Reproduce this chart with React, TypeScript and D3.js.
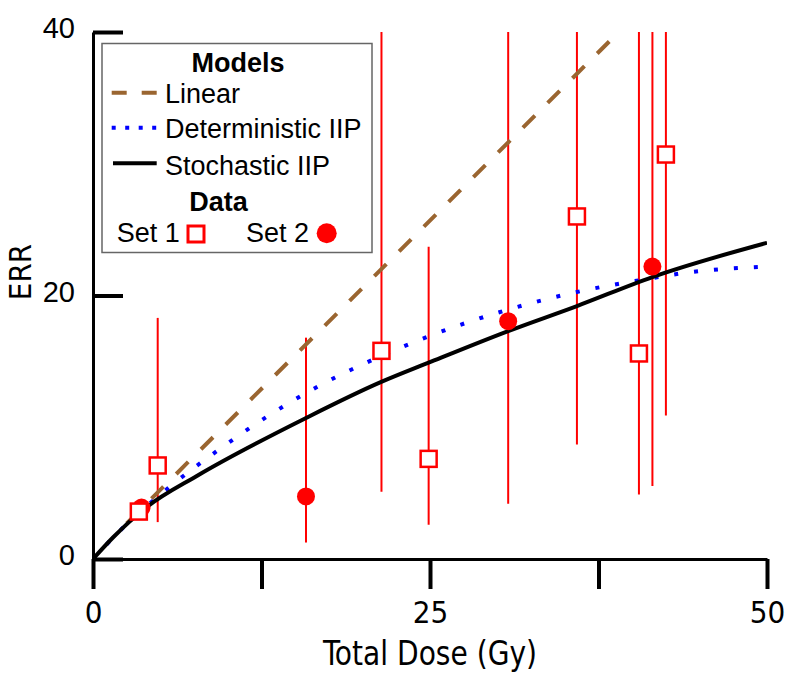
import React, { useEffect, useRef } from 'react'
import * as d3 from 'd3'

// Set 1 (open squares) and Set 2 (filled circles)
const set1Dose = [3.4, 4.8, 21.4, 24.9, 35.9, 40.5, 42.5]
const set1Err = [3.6, 7.1, 15.8, 7.6, 26.0, 15.6, 30.7]
const set1Lo = [3.6, 2.8, 5.1, 2.6, 8.7, 4.9, 10.9]
const set1Hi = [3.6, 18.3, 40, 23.7, 40, 40, 40]

const set2Dose = [3.6, 15.8, 30.8, 41.5]
const set2Err = [3.9, 4.75, 18.05, 22.2]
const set2Lo = [3.9, 1.25, 4.2, 5.55]
const set2Hi = [3.9, 16.8, 40, 40]

// model curves
const linearDose = [2.5, 39.0]
const linearErr = [2.7, 40]

const deterministicDose = [0, 2.25, 5.6, 9.2, 12.9, 16.7, 20.7, 24.9, 30.7, 36.5, 40.8, 43.8, 50]
const deterministicErr = [0, 2.4, 5.4, 8.2, 10.8, 13.1, 15.1, 16.9, 18.9, 20.4, 21.2, 21.7, 22.2]

const stochasticDose = [0, 1.5, 4, 7.7, 15.8, 21.3, 24.9, 30.8, 35.9, 41.5, 50]
const stochasticErr = [0, 1.65, 3.95, 6.3, 10.7, 13.4, 14.9, 17.3, 19.2, 21.4, 24.0]

const xTicks = [0, 12.5, 25, 37.5, 50]
const xTickLabels = ['0', '', '25', '', '50']
const yTicks = [0, 20, 40]

const RED = '#ff0000'
const BROWN = '#9a6530'
const BLUE = '#0000ff'
const NARROW = "'Liberation Sans Narrow', 'DejaVu Sans Condensed', sans-serif"
const SANS = "'Liberation Sans', Arial, sans-serif"

const W = 800
const H = 678

const x = d3.scaleLinear().domain([0, 50]).range([93, 767])
const y = d3.scaleLinear().domain([0, 40]).range([559, 32])

const zip = (xs: number[], ys: number[]) => xs.map((d, i) => [d, ys[i]] as [number, number])

const line = d3
  .line<[number, number]>()
  .x((d) => x(d[0]))
  .y((d) => y(d[1]))
  .curve(d3.curveMonotoneX)

const App: React.FC = () => {
  const xAxisRef = useRef<SVGGElement | null>(null)
  const yAxisRef = useRef<SVGGElement | null>(null)

  useEffect(() => {
    const gx = d3.select(xAxisRef.current!)
    gx.call(
      d3
        .axisBottom(x)
        .tickValues(xTicks)
        .tickSizeInner(30)
        .tickSizeOuter(0)
        .tickPadding(12)
        .tickFormat((_, i) => xTickLabels[i])
    )
    gx.select('.domain').attr('stroke', '#000').attr('stroke-width', 3)
    gx.selectAll('.tick line').attr('stroke', '#000').attr('stroke-width', 4)
    gx.selectAll('.tick text')
      .attr('fill', '#000')
      .attr('font-family', NARROW)
      .attr('font-size', 31)

    const gy = d3.select(yAxisRef.current!)
    gy.call(
      d3
        .axisLeft(y)
        .tickValues(yTicks)
        .tickSizeInner(-30)
        .tickSizeOuter(0)
        .tickPadding(18)
    )
    gy.select('.domain').attr('stroke', '#000').attr('stroke-width', 3)
    gy.selectAll('.tick line').attr('stroke', '#000').attr('stroke-width', 4)
    gy.selectAll('.tick text')
      .attr('fill', '#000')
      .attr('font-family', SANS)
      .attr('font-size', 29)
      .attr('dy', '0.2em')
  }, [])

  const set1 = set1Dose.map((d, i) => ({ d, v: set1Err[i], lo: set1Lo[i], hi: set1Hi[i] }))
  const set2 = set2Dose.map((d, i) => ({ d, v: set2Err[i], lo: set2Lo[i], hi: set2Hi[i] }))

  return (
    <svg width={W} height={H} style={{ position: 'absolute', left: 0, top: 0, background: '#fff' }}>
      <defs>
        <clipPath id="plot">
          <rect x={93} y={32} width={674} height={527} />
        </clipPath>
      </defs>

      {/* error bars */}
      <g clipPath="url(#plot)" stroke={RED} strokeWidth={2}>
        {[...set1, ...set2].map((p, i) => (
          <line key={i} x1={x(p.d)} x2={x(p.d)} y1={y(p.lo)} y2={y(p.hi)} />
        ))}
      </g>

      {/* model curves */}
      <g clipPath="url(#plot)" fill="none">
        <path d={line(zip(linearDose, linearErr))!} stroke={BROWN} strokeWidth={4} strokeDasharray="17,18" />
        <path d={line(zip(deterministicDose, deterministicErr))!} stroke={BLUE} strokeWidth={4} strokeDasharray="4,16" />
        <path d={line(zip(stochasticDose, stochasticErr))!} stroke="#000" strokeWidth={4} />
      </g>

      {/* data markers */}
      <g>
        {set2.map((p, i) => (
          <circle key={i} cx={x(p.d)} cy={y(p.v)} r={9} fill={RED} />
        ))}
        {set1.map((p, i) => (
          <rect key={i} x={x(p.d) - 8} y={y(p.v) - 8} width={16} height={16} fill="#fff" stroke={RED} strokeWidth={2.5} />
        ))}
      </g>

      <g ref={xAxisRef} transform={`translate(0,${y(0)})`} />
      <g ref={yAxisRef} transform={`translate(${x(0)},0)`} />

      <text x={430} y={665} textAnchor="middle" fontFamily={NARROW} fontSize={33} textLength={214} lengthAdjust="spacingAndGlyphs">
        Total Dose (Gy)
      </text>
      <text transform="translate(31,272) rotate(-90)" textAnchor="middle" fontFamily={NARROW} fontSize={31}>
        ERR
      </text>

      {/* legend */}
      <g fontFamily={SANS} fontSize={27}>
        <rect x={102} y={43.5} width={270} height={209} fill="#fff" stroke="#666" strokeWidth={1.5} />
        <text x={238} y={71.7} textAnchor="middle" fontWeight="bold">Models</text>
        <line x1={111.7} x2={156.7} y1={92.7} y2={92.7} stroke={BROWN} strokeWidth={4} strokeDasharray="15,15" />
        <text x={165} y={102.7}>Linear</text>
        <line x1={111.7} x2={157} y1={127.7} y2={127.7} stroke={BLUE} strokeWidth={4} strokeDasharray="4,9.5" />
        <text x={165} y={138.3}>Deterministic IIP</text>
        <line x1={113} x2={156.7} y1={163.3} y2={163.3} stroke="#000" strokeWidth={4} />
        <text x={165} y={175}>Stochastic IIP</text>
        <text x={218.5} y={210.7} textAnchor="middle" fontWeight="bold">Data</text>
        <text x={116.7} y={242.3}>Set 1</text>
        <rect x={188} y={226} width={16} height={16} fill="#fff" stroke={RED} strokeWidth={3} />
        <text x={246} y={242.3}>Set 2</text>
        <circle cx={326.7} cy={233.3} r={10} fill={RED} />
      </g>
    </svg>
  )
}

export default App
